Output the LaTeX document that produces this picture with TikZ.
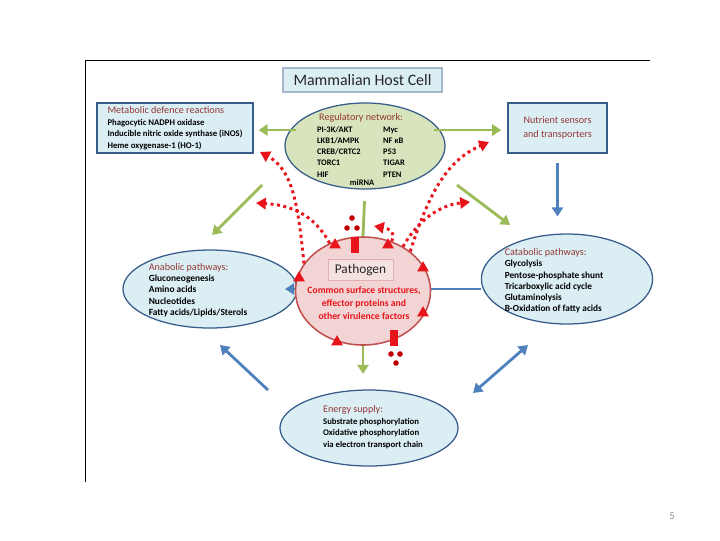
\documentclass[tikz,border=0pt]{standalone}
\usepackage{fontspec}
\setmainfont{Carlito}
\usetikzlibrary{shapes.geometric,arrows.meta}

\definecolor{paleblue}{HTML}{DBEEF4}
\definecolor{boxline}{HTML}{385D8A}
\definecolor{headbrown}{HTML}{953735}
\definecolor{palegreen}{HTML}{D7E4BD}
\definecolor{arrowgreen}{HTML}{9BBB59}
\definecolor{arrowblue}{HTML}{4F81BD}
\definecolor{sigred}{HTML}{E8141B}
\definecolor{dotred}{HTML}{C00000}
\definecolor{palepink}{HTML}{F2D4D4}
\definecolor{pathline}{HTML}{C0504D}

\newcommand{\hdtext}[1]{{\fontsize{7.2}{8.6}\selectfont\mdseries\color{headbrown}#1}}

\begin{document}
\begin{tikzpicture}[x=0.025cm, y=-0.025cm,
        box/.style={rectangle, draw=boxline, fill=paleblue, line width=0.9pt, inner sep=0pt, align=left},
        oval/.style={ellipse, draw=boxline, fill=paleblue, line width=0.9pt, inner sep=0pt},
        listing/.style={align=left, inner sep=0pt, font=\fontsize{6.5}{8.1}\selectfont\bfseries},
        greenarrow/.style={draw=arrowgreen, line width=2pt, -{Triangle[length=6.5pt,width=8pt]}},
        bluearrow/.style={draw=arrowblue, line width=2pt, -{Triangle[length=6.5pt,width=8pt]}},
        signal/.style={draw=sigred, line width=2.1pt, dash pattern=on 2.1pt off 2.5pt, -{Triangle[length=7pt,width=8pt]}},
        receptor/.style={regular polygon, regular polygon sides=3, fill=sigred, inner sep=0pt, minimum size=0.34cm},
        effector/.style={rectangle, fill=sigred, inner sep=0pt, minimum width=0.2cm, minimum height=0.42cm},
        molecule/.style={circle, fill=dotred, inner sep=0pt, minimum size=0.14cm}
    ]
    \useasboundingbox (0,0) rectangle (720,540);

    % Frame of the host cell
    \draw[line width=0.6pt] (85,482) -- (85,60) -- (650,60);

    % Nodes
    \node[box, draw=boxline!45, minimum width=3.975cm, minimum height=0.6cm, align=center,
          font=\fontsize{11.3}{13}\selectfont, text=black!85] (host) at (362.5,80) {Mammalian Host Cell};

    \node[box, minimum width=3.9cm, minimum height=1.25cm, font=\fontsize{6.2}{8.2}\selectfont\bfseries] (defence) at (175,128)
        {\hdtext{Metabolic defence reactions}\\
         Phagocytic NADPH oxidase\\
         Inducible nitric oxide synthase (iNOS)\\
         Heme oxygenase-1 (HO-1)};
    \node[box, minimum width=2.475cm, minimum height=1.25cm, align=center,
          font=\fontsize{7.2}{10}\selectfont, text=headbrown] (sensors) at (557.5,128)
        {Nutrient sensors\\ and transporters};

    \node[oval, fill=palegreen, minimum width=4cm, minimum height=2.15cm] (reg) at (365,146) {};
    \node[listing, align=center, font=\fontsize{6}{8}\selectfont\bfseries] (regtext) at (361,147)
        {\hdtext{Regulatory network:}\\[0.5pt]
         \begin{tabular}{@{}p{1.65cm}@{}l@{}}
         PI-3K/AKT & Myc\\ LKB1/AMPK & NF κB\\ CREB/CRTC2 & P53\\ TORC1 & TIGAR\\ HIF & PTEN
         \end{tabular}};
    \node[listing, font=\fontsize{6}{7.5}\selectfont\bfseries] (mirna) at (362,183) {miRNA};

    \node[oval, minimum width=4.35cm, minimum height=1.95cm] (anab) at (210,289) {};
    \node[listing, font=\fontsize{6.7}{8.1}\selectfont\bfseries] (anabtext) at (198,290)
        {\hdtext{Anabolic pathways:}\\ Gluconeogenesis\\ Amino acids\\ Nucleotides\\ Fatty acids/Lipids/Sterols};

    \node[oval, minimum width=4.28cm, minimum height=2.25cm] (catab) at (567,279) {};
    \node[listing, font=\fontsize{6.6}{8}\selectfont\bfseries] (catabtext) at (554,281)
        {\hdtext{Catabolic pathways:}\\ Glycolysis\\ Pentose-phosphate shunt\\ Tricarboxylic acid cycle\\ Glutaminolysis\\ B-Oxidation of fatty acids};

    \node[oval, minimum width=4.45cm, minimum height=1.9cm] (energy) at (369,428) {};
    \node[listing, font=\fontsize{6.2}{8.2}\selectfont\bfseries] (energytext) at (373,427)
        {\hdtext{Energy supply:}\\ Substrate phosphorylation\\ Oxidative phosphorylation\\ via electron transport chain};

    % Paths: behind the pathogen
    \draw[bluearrow, shorten >=-9pt] (catab.west |- anab.east) -- (anab.east);

    \node[ellipse, draw=pathline, fill=palepink, line width=1.1pt, inner sep=0pt,
          minimum width=3.375cm, minimum height=2.7cm] (pathogen) at (363,291) {};
    \node[rectangle, draw=pathline!45, fill=palepink!70, minimum width=1.625cm, minimum height=0.5cm,
          font=\fontsize{9.5}{11}\selectfont, text=black!85] (plabel) at (360.5,270) {Pathogen};
    \node[align=center, inner sep=0pt, text=sigred, font=\fontsize{6.9}{9.2}\selectfont\bfseries] (factors) at (364,303)
        {Common surface structures,\\ effector proteins and\\ other virulence factors};

    % Paths: free ends
    \coordinate (gl-a) at (262,185);
    \coordinate (gl-b) at (212,235);
    \coordinate (gr-a) at (457,185);
    \coordinate (gr-b) at (510,225);
    \coordinate (bl-a) at (268,390);
    \coordinate (bl-b) at (220,345);
    \coordinate (br-a) at (473,393);
    \coordinate (br-b) at (528,345);
    \coordinate (to-defence) at (260,152);
    \coordinate (to-left) at (256,203);
    \coordinate (to-top) at (374,226);
    \coordinate (to-right) at (470,202);
    \coordinate (to-sensors) at (489,142);

    % Paths: green
    \draw[greenarrow, shorten <=-4pt, shorten >=3.5pt] (reg.168) -- (reg.168 -| defence.east);
    \draw[greenarrow, shorten <=-4pt, shorten >=4.3pt] (reg.12) -- (reg.12 -| sensors.west);
    \draw[greenarrow] (gl-a) -- (gl-b);
    \draw[greenarrow] (gr-a) -- (gr-b);
    \draw[draw=arrowgreen, line width=2pt, shorten <=8pt] (reg.south) -- (pathogen.north);
    \draw[greenarrow, shorten >=11pt] (pathogen.south) -- (pathogen.south |- energy.north);

    % Paths: blue
    \draw[bluearrow, shorten <=7pt, shorten >=12pt] (sensors.south) -- (sensors.south |- catab.north);
    \draw[bluearrow] (bl-a) -- (bl-b);
    \draw[bluearrow, {Triangle[length=6.5pt,width=8pt]}-{Triangle[length=6.5pt,width=8pt]}] (br-a) -- (br-b);

    % Paths: pathogen signals
    \draw[signal] (pathogen.155) .. controls (298,205) and (293,170) .. (to-defence);
    \draw[signal] (pathogen.125) .. controls (314,214) and (290,205) .. (to-left);
    \draw[signal] (pathogen.60) .. controls (396,232) and (390,229) .. (to-top);
    \draw[signal] (pathogen.48) .. controls (418,220) and (440,205) .. (to-right);
    \draw[signal] (pathogen.40) .. controls (430,190) and (448,160) .. (to-sensors);

    % Receptors and effectors
    \node[receptor] (rc1) at (335,245) {};
    \node[receptor] (rc2) at (388,245) {};
    \node[receptor] (rc3) at (299,278) {};
    \node[receptor] (rc4) at (423,268) {};
    \node[receptor] (rc5) at (423,313) {};
    \node[receptor] (rc6) at (337,342) {};

    \node[effector] (ef1) at (355,245) {};
    \node[molecule] (m1) at (352,218) {};
    \node[molecule] (m2) at (347,228) {};
    \node[molecule] (m3) at (357,228) {};

    \node[effector] (ef2) at (394,338) {};
    \node[molecule] (m4) at (391,354) {};
    \node[molecule] (m5) at (400,354) {};
    \node[molecule] (m6) at (396,363) {};

    \node[font=\fontsize{7.5}{9}\selectfont, text=black!45] (page) at (672,516) {5};
\end{tikzpicture}
\end{document}
